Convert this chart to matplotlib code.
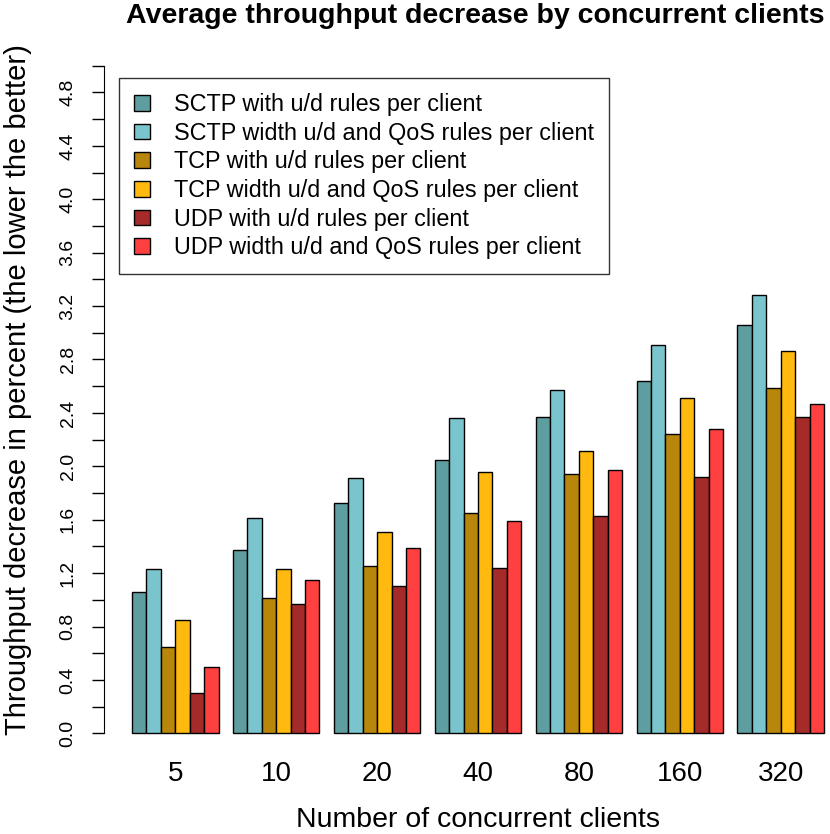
import numpy as np
import matplotlib.pyplot as plt

plt.rcParams['font.family'] = ['Liberation Sans', 'DejaVu Sans']

# Daten
clients = ['5', '10', '20', '40', '80', '160', '320']
series = [
    'SCTP with u/d rules per client',
    'SCTP width u/d and QoS rules per client',
    'TCP with u/d rules per client',
    'TCP width u/d and QoS rules per client',
    'UDP with u/d rules per client',
    'UDP width u/d and QoS rules per client',
]
sctp = [1.06, 1.37, 1.725, 2.045, 2.37, 2.64, 3.06]
sctp_qos = [1.23, 1.61, 1.91, 2.36, 2.57, 2.91, 3.28]
tcp = [0.65, 1.01, 1.25, 1.65, 1.94, 2.24, 2.59]
tcp_qos = [0.85, 1.23, 1.51, 1.96, 2.115, 2.51, 2.86]
udp = [0.30, 0.97, 1.105, 1.24, 1.625, 1.92, 2.37]
udp_qos = [0.50, 1.15, 1.39, 1.59, 1.97, 2.28, 2.47]
values = [sctp, sctp_qos, tcp, tcp_qos, udp, udp_qos]
colors = ['#5F9EA0', '#7AC5CD', '#B8860B', '#FFB90F', '#A52A2A', '#FF4040']

fig = plt.figure(figsize=(8.3, 8.34), dpi=100)
# Achsen wie in R: Plotbereich geht rechts ueber den Rand hinaus
ax = fig.add_axes([104.4 / 830, 1 - 760 / 834, 747.2 / 830, 720.9 / 834])

n_ser = len(series)
for g in range(len(clients)):
    start = g * (n_ser + 1) + 1
    for s in range(n_ser):
        ax.bar(start + s + 0.5, values[s][g], width=1.0, color=colors[s],
               edgecolor='black', linewidth=1.0,
               label=series[s] if g == 0 else None)

centers = [g * (n_ser + 1) + 1 + n_ser / 2 for g in range(len(clients))]
ax.set_xlim(-0.92, 50.92)
ax.set_ylim(-0.2, 5.2)

ax.set_xticks(centers)
ax.set_xticklabels(clients, fontsize=20)
ax.tick_params(axis='x', length=0, pad=1)

major = np.arange(0, 4.81, 0.4)
minor = np.arange(0, 5.01, 0.2)
ax.set_yticks(major)
ax.set_yticklabels([f'{v:.1f}' for v in major], rotation=90, va='center', fontsize=14)
ax.set_yticks(minor, minor=True)
ax.tick_params(axis='y', which='both', length=9, width=1.0, pad=11)

for sp in ['top', 'right', 'bottom']:
    ax.spines[sp].set_visible(False)
ax.spines['left'].set_bounds(0, 5.0)

fig.text(478 / 830, 1 - 820 / 834, 'Number of concurrent clients',
         ha='center', va='center', fontsize=20.5)
fig.text(18 / 830, 1 - 390 / 834, 'Throughput decrease in percent (the lower the better)',
         ha='center', va='center', rotation=90, fontsize=21)
fig.text(475.5 / 830, 1 - 16 / 834, 'Average throughput decrease by concurrent clients',
         ha='center', va='center', fontsize=20.5, fontweight='bold')

leg = ax.legend(loc='upper left', bbox_to_anchor=(0.0195, 0.946), fontsize=16.8,
                frameon=True, fancybox=False, edgecolor='black',
                handlelength=0.7, handleheight=0.65, handletextpad=1.0,
                borderpad=0.65, labelspacing=0.24, borderaxespad=0)
leg.get_frame().set_linewidth(1.0)

fig.savefig('out.png', dpi=100)
